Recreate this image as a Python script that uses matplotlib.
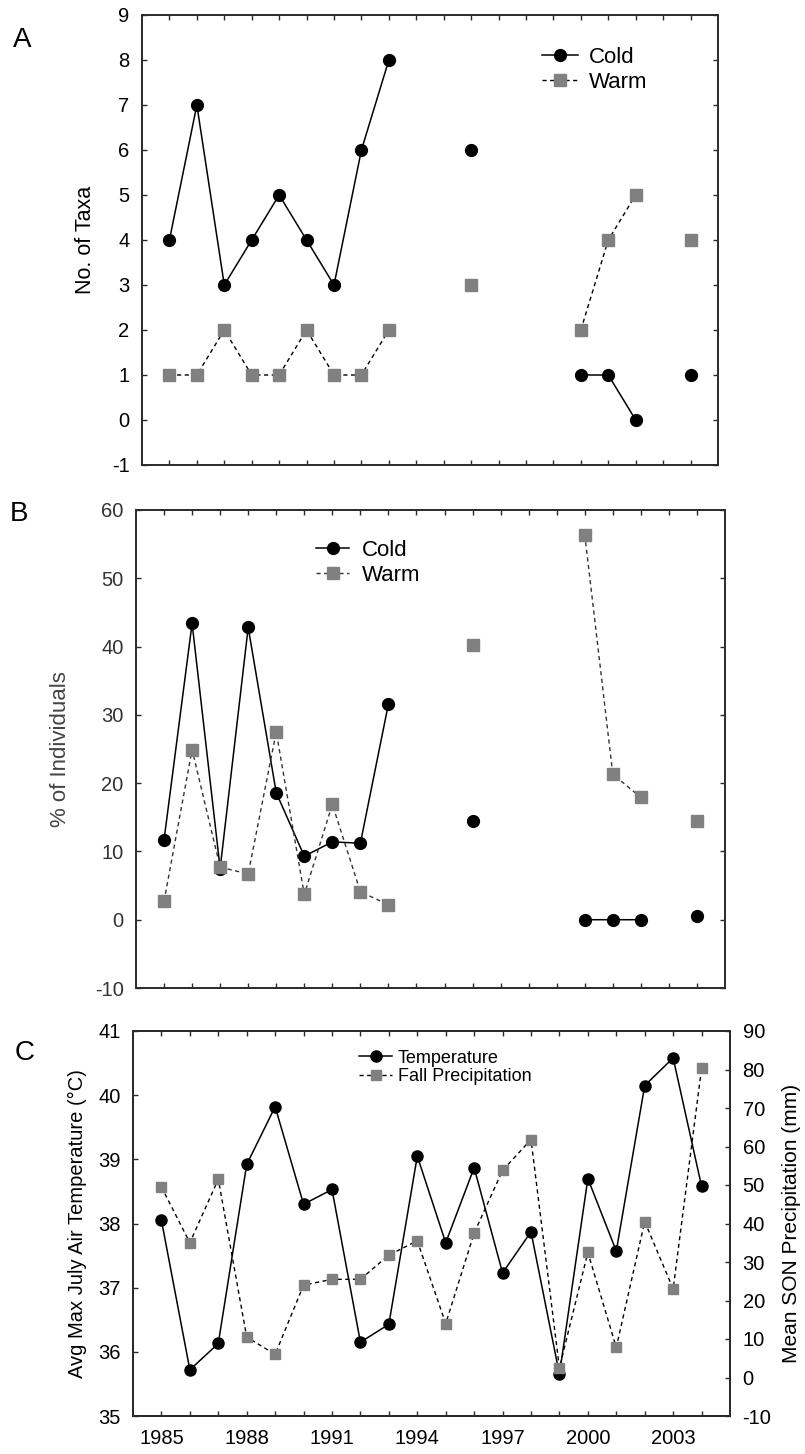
import numpy as np
import matplotlib
matplotlib.use("Agg")
import matplotlib.pyplot as plt

plt.rcParams['font.family'] = ['Liberation Sans', 'DejaVu Sans']
plt.rcParams['axes.unicode_minus'] = False

# ---- data ----
years = np.arange(1985, 2005)
nan = np.nan

# A: number of taxa
taxa_cold = [4, 7, 3, 4, 5, 4, 3, 6, 8, nan, nan, 6, nan, nan, nan, 1, 1, 0, nan, 1]
taxa_warm = [1, 1, 2, 1, 1, 2, 1, 1, 2, nan, nan, 3, nan, nan, nan, 2, 4, 5, nan, 4]

# B: % of individuals
pct_cold = [11.7, 43.4, 7.5, 42.8, 18.6, 9.3, 11.4, 11.2, 31.6, nan, nan, 14.4,
            nan, nan, nan, 0.0, 0.0, 0.0, nan, 0.5]
pct_warm = [2.7, 24.9, 7.7, 6.7, 27.5, 3.7, 16.9, 4.1, 2.2, nan, nan, 40.3,
            nan, nan, nan, 56.4, 21.3, 17.9, nan, 14.5]

# C: climate
temp = [38.05, 35.72, 36.13, 38.92, 39.82, 38.30, 38.53, 36.15, 36.43, 39.05,
        37.70, 38.87, 37.23, 37.87, 35.65, 38.70, 37.57, 40.15, 40.58, 38.58]
precip = [49.5, 35.0, 51.5, 10.5, 6.0, 24.0, 25.5, 25.5, 31.8, 35.5,
          14.0, 37.5, 53.8, 61.8, 2.5, 32.5, 7.8, 40.5, 23.0, 80.3]

W, H = 805, 1454
GRAY = '#808080'
SPINE = '#2a2a2a'


def rect(l, t, r, b):
    return [l / W, 1 - b / H, (r - l) / W, (b - t) / H]


def style(ax, right=True):
    for s in ax.spines.values():
        s.set_linewidth(1.4)
        s.set_color(SPINE)
    ax.tick_params(which='both', direction='in', length=3.5, width=1.0,
                   color=SPINE, top=True, right=right, labelsize=14.5, pad=9)
    ax.set_xlim(1984, 2005)


def leg(ax, x, y, size, hl, tp, ls):
    ax.legend(loc='center left', bbox_to_anchor=(x / W, 1 - y / H),
              bbox_transform=ax.figure.transFigure, frameon=False,
              fontsize=size, handlelength=hl, handletextpad=tp,
              labelspacing=ls, borderpad=0, borderaxespad=0, numpoints=1)


fig = plt.figure(figsize=(W / 100, H / 100), dpi=100)

# ---------- A ----------
ax1 = fig.add_axes(rect(142, 15, 718, 465))
ax1.plot(years, taxa_cold, '-o', color='black', lw=1.1, ms=8.5, label='Cold')
ax1.plot(years, taxa_warm, linestyle=(0, (3, 2.5)), marker='s', color='black',
         mfc=GRAY, mec=GRAY, lw=1.0, ms=8, label='Warm')
style(ax1)
ax1.set_ylim(-1, 9)
ax1.set_yticks(range(-1, 10))
ax1.set_xticks(years)
ax1.tick_params(labelbottom=False)
ax1.set_ylabel('No. of Taxa', fontsize=15.5, va='center')
ax1.yaxis.set_label_coords(-0.098, 0.5)
leg(ax1, 542, 70, 16, 1.6, 0.5, 0.2)

# ---------- B ----------
ax2 = fig.add_axes(rect(136, 510, 725, 988))
ax2.plot(years, pct_cold, '-o', color='black', lw=1.1, ms=8.5, label='Cold')
ax2.plot(years, pct_warm, linestyle=(0, (3, 2.5)), marker='s', color='#333333',
         mfc=GRAY, mec=GRAY, lw=1.0, ms=8, label='Warm')
style(ax2)
ax2.set_ylim(-10, 60)
ax2.set_yticks(range(-10, 61, 10))
ax2.set_xticks(years)
ax2.tick_params(labelbottom=False, labelcolor='#333333')
ax2.set_ylabel('% of Individuals', fontsize=16, va='center', color='#444444')
ax2.yaxis.set_label_coords(-0.129, 0.5)
leg(ax2, 316, 563, 16, 1.5, 0.55, 0.2)

# ---------- C ----------
ax3 = fig.add_axes(rect(133, 1031, 730, 1416))
ax3b = ax3.twinx()
l1, = ax3.plot(years, temp, '-o', color='black', lw=1.1, ms=8, label='Temperature')
l2, = ax3b.plot(years, precip, linestyle=(0, (3, 2.5)), marker='s', color='black',
                mfc=GRAY, mec=GRAY, lw=1.0, ms=7.5, label='Fall Precipitation')
style(ax3, right=False)
style(ax3b)
ax3b.tick_params(which='both', left=False, top=False, right=True, pad=9)
ax3.set_ylim(35, 41)
ax3.set_yticks(range(35, 42))
ax3b.set_ylim(-10, 90)
ax3b.set_yticks(range(-10, 91, 10))
ax3.set_xticks(years[::3])
ax3.set_xticks(years, minor=True)
ax3.set_ylabel('Avg Max July Air Temperature (°C)', fontsize=14.5, va='center')
ax3.yaxis.set_label_coords(-0.093, 0.5)
ax3b.set_ylabel('Mean SON Precipitation (mm)', fontsize=15, va='center', rotation=90)
ax3b.yaxis.set_label_coords(1.103, 0.5)
ax3b.legend([l1, l2], ['Temperature', 'Fall Precipitation'],
            loc='center left', bbox_to_anchor=(359 / W, 1 - 1067.5 / H),
            bbox_transform=fig.transFigure, frameon=False, fontsize=13,
            handlelength=1.85, handletextpad=0.3, labelspacing=0.1,
            borderpad=0, borderaxespad=0, numpoints=1)

# panel letters
fig.text(22 / W, 1 - 40 / H, 'A', fontsize=20, ha='center', va='center')
fig.text(19 / W, 1 - 514 / H, 'B', fontsize=20, ha='center', va='center')
fig.text(25 / W, 1 - 1053 / H, 'C', fontsize=20, ha='center', va='center')

fig.savefig('out.png', dpi=100, facecolor='white')
